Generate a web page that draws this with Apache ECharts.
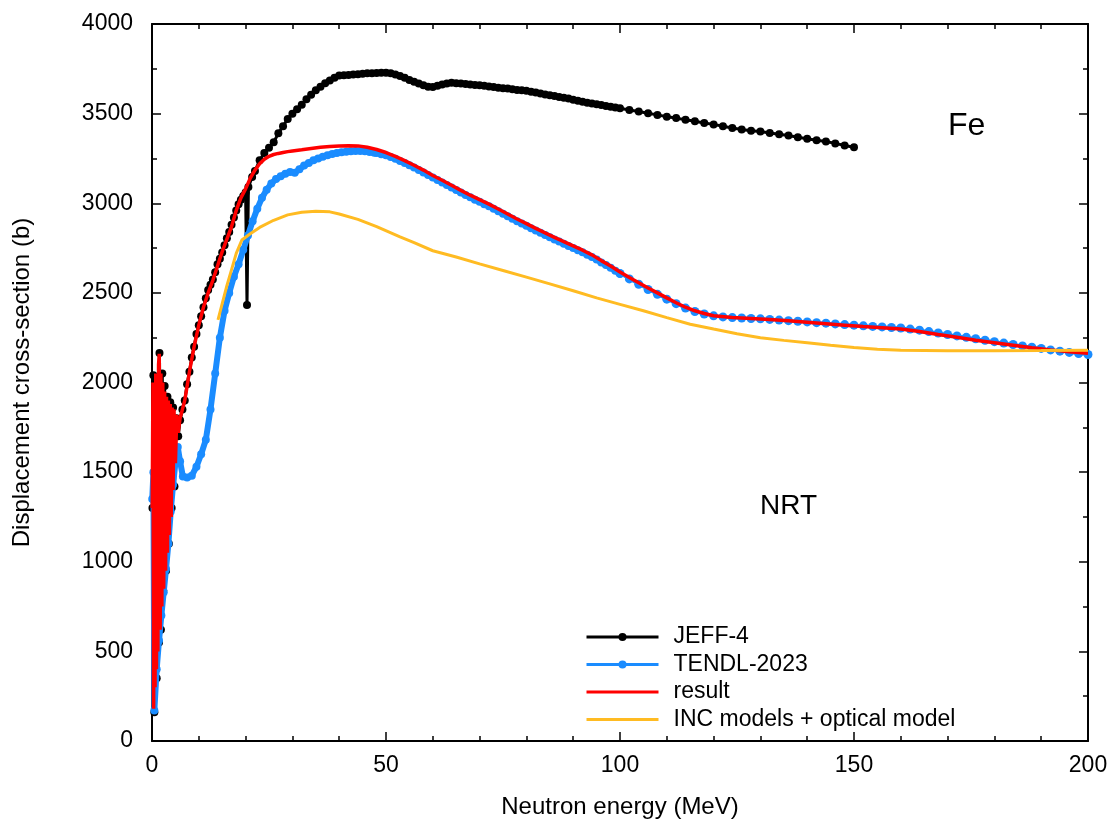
<!DOCTYPE html>
<html>
<head>
<meta charset="utf-8">
<title>Fe displacement cross-section</title>
<script src="https://cdn.jsdelivr.net/npm/echarts@6/dist/echarts.min.js"></script>
<style>
  html, body { margin: 0; padding: 0; background: #fff; }
  #chart { width: 1116px; height: 827px; }
</style>
</head>
<body>
<div id="chart"></div>
<script>
// x: neutron energy (MeV), y: displacement cross-section (b)
const jeff4 = [
  [0.1,1300],[0.3,2040],[0.5,160],[0.8,1950],[1.0,350],[1.3,2000],[1.5,550],[1.6,2165],[1.9,620],
  [2.2,2050],[2.4,840],[2.7,1980],[3.0,950],[3.3,1920],[3.6,1100],[3.9,1890],[4.2,1300],[4.5,1860],
  [4.8,1420],[5.2,1800],[5.6,1700],[6,1790],[6.5,1850],[7,1900],[7.5,1990],[8,2060],[8.5,2140],
  [9,2200],[9.5,2270],[10,2320],[10.5,2370],[11,2420],[11.5,2470],[12,2516],[12.5,2545],
  [13,2575],[13.5,2615],[14,2660],[14.5,2690],[15,2725],[15.5,2765],[16,2805],[16.5,2840],
  [17,2880],[17.5,2920],[18,2960],[18.5,2995],[19,3020],[19.5,3040],[20.0,3060],
  [20.3,2432],[20.6,3090],[21.4,3146],[22,3180],[23,3240],[24,3280],[25,3310],[26,3340],[27,3390],
  [28,3430],[29,3470],[30,3500],[31,3525],[32,3550],[33,3580],[34,3605],[35,3630],[36,3650],
  [37,3670],[38,3685],[39,3700],[40,3712],[41,3714],[42,3716],[43,3718],[44,3720],[45,3722],
  [46,3725],[47,3725],[48,3726],[49,3728],[50,3728],[51,3725],[52,3718],[53,3710],[54,3700],
  [55,3688],[56,3678],[57,3668],[58,3658],[59,3650],[60,3648],[61,3655],[62,3662],[63,3668],
  [64,3672],[65,3670],[66,3668],[67,3665],[68,3662],[69,3660],[70,3658],[71,3655],[72,3652],
  [73,3648],[74,3645],[75,3642],[76,3640],[77,3636],[78,3632],[79,3630],[80,3627],[81,3622],
  [82,3618],[83,3612],[84,3607],[85,3603],[86,3598],[87,3593],[88,3588],[89,3584],[90,3578],
  [91,3572],[92,3566],[93,3561],[94,3556],[95,3552],[96,3548],[97,3543],[98,3538],[99,3534],
  [100,3530],[102,3520],[104,3512],[106,3502],[108,3493],[110,3483],[112,3475],[114,3466],
  [116,3457],[118,3448],[120,3440],[122,3430],[124,3420],[126,3412],[128,3405],[130,3400],
  [132,3392],[134,3385],[136,3378],[138,3368],[140,3360],[142,3352],[144,3344],[146,3334],
  [148,3322],[150,3312]
];

const tendl2023 = [
  [0.05,1350],[0.3,1500],[0.5,170],[1,400],[1.5,560],[2,700],[2.5,830],[3,960],[3.5,1100],
  [4,1280],[4.5,1430],[5,1550],[5.5,1640],[6,1560],[6.6,1475],[7.5,1470],[8.5,1480],[9.5,1530],
  [10.5,1600],[11.5,1680],[12.5,1850],[13.5,2050],[14.5,2250],[15.5,2400],[16.5,2500],
  [17.5,2590],[18.5,2660],[19.5,2740],[20.5,2820],[21.5,2900],[22.5,2970],[23.5,3030],
  [24.5,3075],[25.5,3110],[26.5,3135],[27.5,3150],[28.5,3165],[29.5,3175],[30.5,3170],
  [31.5,3190],[32.5,3210],[33.5,3225],[34.5,3240],[35.5,3250],[36.5,3260],[37.5,3268],
  [38.5,3275],[39.5,3280],[40.5,3284],[41.5,3288],[42.5,3290],[43.5,3292],[44.5,3292],
  [45.5,3290],[46.5,3286],[47.5,3282],[48,3280],[49,3274],[50,3268],[51,3258],[52,3248],
  [53,3236],[54,3225],[55,3212],[56,3200],[57,3186],[58,3172],[59,3158],[60,3144],[61,3130],
  [62,3116],[63,3102],[64,3088],[65,3074],[66,3060],[67,3046],[68,3033],[69,3020],[70,3008],
  [71,2995],[72,2983],[73,2970],[74,2956],[75,2942],[76,2928],[77,2914],[78,2900],[79,2887],
  [80,2874],[81,2861],[82,2848],[83,2836],[84,2823],[85,2810],[86,2798],[87,2786],[88,2774],
  [89,2762],[90,2750],[91,2738],[92,2726],[93,2713],[94,2700],[95,2686],[96,2670],[97,2655],
  [98,2640],[99,2624],[100,2608],[102,2578],[104,2548],[106,2519],[108,2492],[110,2465],
  [112,2440],[114,2415],[116,2396],[118,2382],[120,2372],[122,2366],[124,2362],[126,2360],
  [128,2357],[130,2355],[132,2352],[134,2348],[136,2345],[138,2342],[140,2338],[142,2334],
  [144,2331],[146,2327],[148,2323],[150,2320],[152,2316],[154,2313],[156,2310],[158,2307],
  [160,2304],[162,2298],[164,2292],[166,2284],[168,2276],[170,2268],[172,2260],[174,2252],
  [176,2244],[178,2236],[180,2228],[182,2220],[184,2212],[186,2204],[188,2197],[190,2190],
  [192,2182],[194,2175],[196,2168],[198,2162],[200,2156]
];

const result = [
  [0.05,1300],[0.2,2000],[0.35,180],[0.5,1950],[0.65,300],[0.8,2050],[0.95,400],[1.1,2000],
  [1.25,500],[1.4,2100],[1.55,2160],[1.75,620],[1.9,2050],[2.1,750],[2.3,2000],[2.5,850],
  [2.7,1950],[2.9,950],[3.1,1920],[3.3,1050],[3.5,1900],[3.7,1150],[3.9,1880],[4.1,1250],
  [4.3,1860],[4.5,1400],[4.7,1850],[5.0,1550],[5.3,1820],[5.6,1720],[6,1800],[7,1900],
  [8,2060],[9,2200],[10,2320],[11,2420],[12,2500],[13,2570],[14,2650],[15,2730],[16,2800],
  [17,2870],[18,2960],[19,3030],[20,3080],[21,3140],[22,3185],[23,3220],[24,3245],[25,3262],
  [26,3272],[27,3278],[28,3283],[29,3288],[30,3292],[32,3298],[34,3305],[36,3312],[38,3316],
  [40,3320],[42,3321],[44,3320],[46,3312],[48,3300],[50,3283],[52,3262],[54,3238],[56,3212],
  [58,3185],[60,3155],[62,3128],[64,3100],[66,3072],[68,3045],[70,3020],[72,2995],[74,2968],
  [76,2940],[78,2912],[80,2886],[82,2860],[84,2835],[86,2810],[88,2786],[90,2762],[92,2738],
  [94,2712],[96,2680],[98,2650],[100,2617],[102,2586],[104,2556],[106,2527],[108,2500],
  [110,2472],[112,2445],[114,2420],[116,2400],[118,2385],[120,2372],[124,2362],[128,2357],
  [132,2352],[136,2344],[140,2336],[144,2328],[148,2320],[152,2312],[156,2305],[160,2298],
  [164,2285],[168,2268],[172,2252],[176,2236],[180,2222],[184,2208],[188,2194],[192,2182],
  [196,2172],[200,2163]
];

const incOptical = [
  [14.1,2350],[15,2440],[16,2540],[17,2630],[18,2720],[19.2,2795],[21,2830],[23,2865],
  [26,2905],[29,2935],[32,2950],[35,2955],[38,2952],[40,2940],[44,2910],[48,2870],[53,2812],
  [56,2780],[60,2735],[65,2700],[70,2662],[75,2625],[80,2588],[85,2550],[90,2512],[95,2472],
  [100,2436],[105,2400],[110,2362],[115,2325],[120,2298],[125,2272],[130,2250],[135,2235],
  [140,2222],[145,2208],[150,2195],[155,2186],[160,2180],[170,2177],[180,2177],[190,2178],
  [200,2180]
];

const xTicks = [0, 50, 100, 150, 200];
const yTicks = [0, 500, 1000, 1500, 2000, 2500, 3000, 3500, 4000];

const FONT = '"Liberation Sans", Arial, sans-serif';
const BLUE = '#1a8cff';

// TENDL is densely sampled up to 100 MeV (thick band), sparser beads above
const tendlDense = tendl2023.filter(p => p[0] <= 100);
const tendlSparse = tendl2023.filter(p => p[0] >= 100);

const chart = echarts.init(document.getElementById('chart'));

const tickStyle = { color: '#000', width: 1.5 };
const frameAxis = (extra) => Object.assign({
  type: 'value',
  axisLine: { show: true, onZero: false, lineStyle: { color: '#000', width: 2 } },
  axisTick: { show: true, inside: true, length: 9, lineStyle: tickStyle },
  splitLine: { show: false },
  minorSplitLine: { show: false }
}, extra);

const option = {
  animation: false,
  backgroundColor: '#fff',
  grid: { left: 152, right: 28, top: 24, bottom: 86 },
  legend: {
    orient: 'vertical',
    left: 585,
    top: 624,
    padding: 0,
    itemWidth: 72,
    itemHeight: 10,
    itemGap: 1.5,
    lineStyle: { width: 3 },
    textStyle: { fontFamily: FONT, fontSize: 23, color: '#000', lineHeight: 26, padding: [0, 0, 0, 10] },
    data: [
      { name: 'JEFF-4' },
      { name: 'TENDL-2023' },
      { name: 'result', itemStyle: { color: 'rgba(0,0,0,0)', opacity: 0 } },
      { name: 'INC models + optical model', itemStyle: { color: 'rgba(0,0,0,0)', opacity: 0 } }
    ]
  },
  xAxis: [
    frameAxis({
      position: 'bottom', min: 0, max: 200, interval: 50,
      minorTick: { show: true, splitNumber: 5, length: 5, lineStyle: tickStyle },
      axisLabel: {
        fontFamily: FONT, fontSize: 23, color: '#000', margin: 13,
        customValues: xTicks, formatter: v => String(v)
      },
      name: 'Neutron energy (MeV)', nameLocation: 'middle', nameGap: 54,
      nameTextStyle: { fontFamily: FONT, fontSize: 24, color: '#000' }
    }),
    frameAxis({
      position: 'top', min: 0, max: 200, interval: 50,
      minorTick: { show: true, splitNumber: 5, length: 5, lineStyle: tickStyle },
      axisLabel: { show: false }
    })
  ],
  yAxis: [
    frameAxis({
      position: 'left', min: 0, max: 4000, interval: 500,
      minorTick: { show: true, splitNumber: 2, length: 5, lineStyle: tickStyle },
      axisLabel: {
        fontFamily: FONT, fontSize: 23, color: '#000', margin: 19,
        customValues: yTicks, formatter: v => String(v)
      },
      name: 'Displacement cross-section (b)', nameLocation: 'middle', nameGap: 118,
      nameTextStyle: { fontFamily: FONT, fontSize: 24, color: '#000' }
    }),
    frameAxis({
      position: 'right', min: 0, max: 4000, interval: 500,
      minorTick: { show: true, splitNumber: 2, length: 5, lineStyle: tickStyle },
      axisLabel: { show: false }
    })
  ],
  series: [
    {
      name: 'JEFF-4', type: 'line', data: jeff4, z: 2,
      color: '#000',
      lineStyle: { color: '#000', width: 3 },
      symbol: 'circle', symbolSize: 8, showSymbol: true,
      itemStyle: { color: '#000' }
    },
    {
      name: 'TENDL-2023', type: 'line', data: tendlDense, z: 3,
      color: BLUE,
      lineStyle: { color: BLUE, width: 6 },
      symbol: 'circle', symbolSize: 8, showSymbol: true,
      itemStyle: { color: BLUE }
    },
    {
      name: 'TENDL-2023', type: 'line', data: tendlSparse, z: 3,
      color: BLUE,
      lineStyle: { color: BLUE, width: 3 },
      symbol: 'circle', symbolSize: 9, showSymbol: true,
      itemStyle: { color: BLUE }
    },
    {
      name: 'result', type: 'line', data: result, z: 4,
      color: '#ff0000',
      lineStyle: { color: '#ff0000', width: 3.5 },
      symbol: 'none', showSymbol: false
    },
    {
      name: 'INC models + optical model', type: 'line', data: incOptical, z: 5,
      color: '#ffbb22',
      lineStyle: { color: '#ffbb22', width: 3 },
      symbol: 'none', showSymbol: false
    }
  ],
  graphic: [
    { type: 'text', left: 948, top: 110, style: { text: 'Fe', font: '32px ' + FONT, fill: '#000' } },
    { type: 'text', left: 760, top: 492, style: { text: 'NRT', font: '28px ' + FONT, fill: '#000' } }
  ]
};

chart.setOption(option);
</script>
</body>
</html>
